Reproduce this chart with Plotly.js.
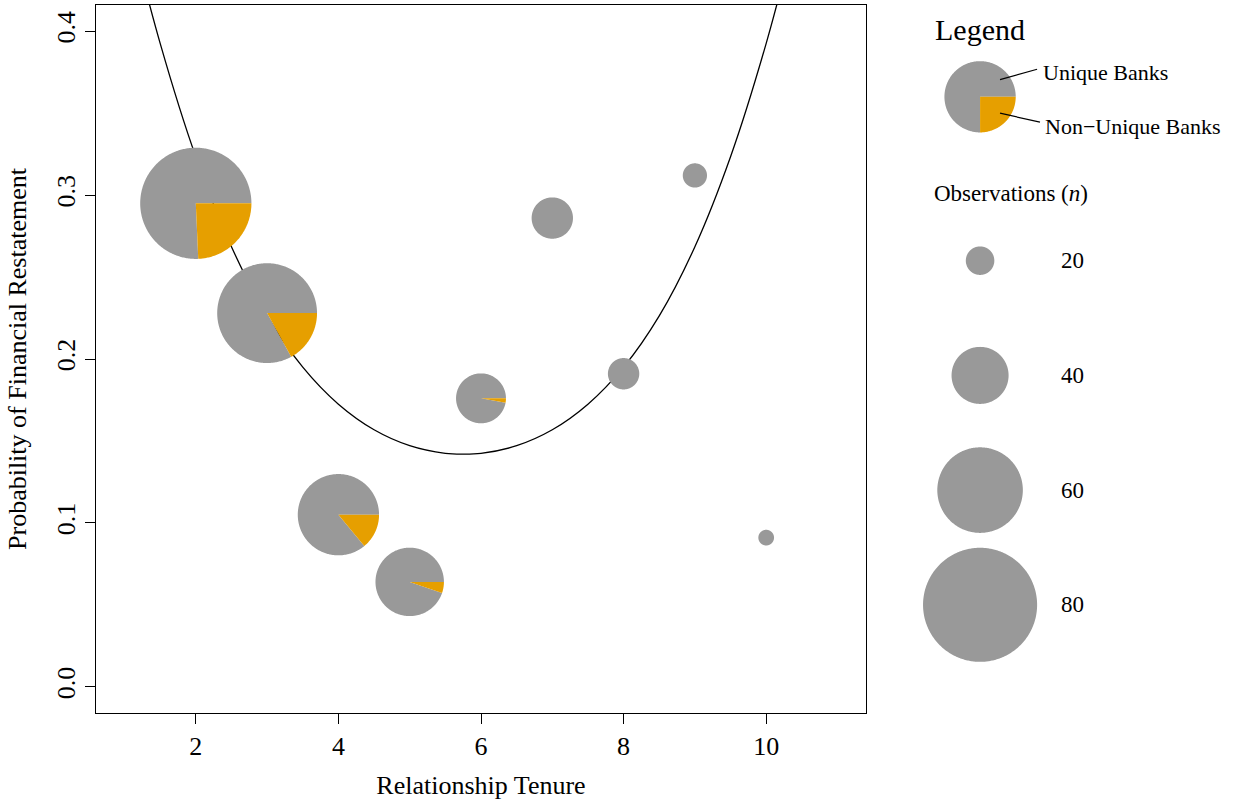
<!DOCTYPE html>
<html><head><meta charset="utf-8">
<script src="https://cdn.plot.ly/plotly-3.0.1.min.js"></script>
<style>html,body{margin:0;padding:0;background:#fff;}</style>
</head><body><div id="chart" style="width:1239px;height:800px;"></div>
<script>
// ---- data ----
const tenure = [2, 3, 4, 5, 6, 7, 8, 9, 10];
const probRestatement = [0.295, 0.228, 0.105, 0.064, 0.176, 0.286, 0.191, 0.312, 0.091];
const observations = [78, 70, 57, 48, 35, 29, 22, 17, 11];
const nonUniqueShare = [0.243, 0.17, 0.14, 0.053, 0.028, 0, 0, 0, 0];

// fitted curve
const curveTenure = [1, 1.5, 2, 2.5, 3, 3.5, 4, 4.5, 5, 5.5, 5.75, 6, 6.5, 7, 7.5, 8, 8.5, 9, 9.5, 10, 10.5];
const curveProb = [0.4759, 0.3926, 0.3234, 0.2685, 0.2263, 0.1950, 0.1724, 0.1568, 0.1471, 0.1424, 0.1419,
                   0.1424, 0.1471, 0.1568, 0.1724, 0.1950, 0.2263, 0.2685, 0.3234, 0.3926, 0.4759];

const xTicks = [2, 4, 6, 8, 10];
const yTicks = [0, 0.1, 0.2, 0.3, 0.4];
const yTickLabels = ['0.0', '0.1', '0.2', '0.3', '0.4'];

const legendSizes = [20, 40, 60, 80];
const legendSizeLabels = ['20', '40', '60', '80'];
const legendPieN = 50;
const legendPieShare = 0.25;

// ---- layout constants ----
const W = 1239, H = 800;
const M = {l: 96, r: 373, t: 5, b: 87};
const xRange = [0.6, 11.4];
const yRange = [-0.016, 0.416];
const plotW = W - M.l - M.r;
const plotH = H - M.t - M.b;
const pxPerX = plotW / (xRange[1] - xRange[0]);
const GRAY = '#999999', ORANGE = '#E69F00';
const FONT = 'Liberation Serif, Times New Roman, serif';

function toPaperX(x) { return (x - xRange[0]) / (xRange[1] - xRange[0]); }
function toPaperY(y) { return (y - yRange[0]) / (yRange[1] - yRange[0]); }

function arcPath(r, a0, a1) {
  // wedge from angle a0 to a1 (radians, counter-clockwise, y up)
  let p = 'M0,0';
  const steps = Math.max(2, Math.ceil((a1 - a0) / (Math.PI / 180)));
  for (let k = 0; k <= steps; k++) {
    const a = a0 + (a1 - a0) * k / steps;
    p += ' L' + (r * Math.cos(a)).toFixed(2) + ',' + (r * Math.sin(a)).toFixed(2);
  }
  return p + ' Z';
}

function pieShapes(n, share, anchor) {
  const r = n / 100 * pxPerX;
  const out = [];
  const split = 2 * Math.PI * (1 - share);
  const base = Object.assign({type: 'path', xsizemode: 'pixel', ysizemode: 'pixel',
    line: {width: 0}, layer: 'above'}, anchor);
  out.push(Object.assign({}, base, {path: arcPath(r, 0, split), fillcolor: GRAY}));
  if (share > 0) out.push(Object.assign({}, base, {path: arcPath(r, split, 2 * Math.PI), fillcolor: ORANGE}));
  return out;
}

const shapes = [];
tenure.forEach((t, i) => {
  shapes.push(...pieShapes(observations[i], nonUniqueShare[i],
    {xref: 'x', yref: 'y', xanchor: t, yanchor: probRestatement[i]}));
});

// legend (outside plotting region, in data units converted to paper)
const legX = 13;
shapes.push(...pieShapes(legendPieN, legendPieShare,
  {xref: 'paper', yref: 'paper', xanchor: toPaperX(legX), yanchor: toPaperY(0.36)}));
const sizeY = [0.26, 0.19, 0.12, 0.05];
legendSizes.forEach((n, i) => {
  shapes.push(...pieShapes(n, 0,
    {xref: 'paper', yref: 'paper', xanchor: toPaperX(legX), yanchor: toPaperY(sizeY[i])}));
});
shapes.push({type: 'line', xref: 'paper', yref: 'paper', layer: 'above',
  x0: toPaperX(13.28), y0: toPaperY(0.3705), x1: toPaperX(13.80), y1: toPaperY(0.3768),
  line: {color: 'black', width: 1.2}});
shapes.push({type: 'line', xref: 'paper', yref: 'paper', layer: 'above',
  x0: toPaperX(13.28), y0: toPaperY(0.350), x1: toPaperX(13.84), y1: toPaperY(0.3445),
  line: {color: 'black', width: 1.2}});

const annotations = [
  {x: legX, y: 0.401, text: 'Legend', font: {size: 30}},
  {x: 13.86, y: 0.375, text: 'Unique Banks', xanchor: 'left', font: {size: 22}},
  {x: 13.88, y: 0.342, text: 'Non\u2212Unique Banks', xanchor: 'left', font: {size: 22}},
  {x: 12.33, y: 0.301, text: 'Observations (<i>n</i>)', xanchor: 'left', font: {size: 23}},
];
legendSizeLabels.forEach((lab, i) => {
  annotations.push({x: 14.29, y: sizeY[i], text: lab, font: {size: 23}});
});
annotations.forEach(a => {
  a.x = toPaperX(a.x); a.y = toPaperY(a.y);
  a.xref = 'paper'; a.yref = 'paper'; a.showarrow = false;
  if (!a.xanchor) a.xanchor = 'center';
  a.yanchor = 'middle';
  a.font = Object.assign({family: FONT, color: 'black'}, a.font);
});

const data = [{
  type: 'scatter', mode: 'lines', x: curveTenure, y: curveProb,
  line: {color: 'black', width: 1.3, shape: 'spline', smoothing: 1},
  hoverinfo: 'skip', showlegend: false
}];

const axisCommon = {
  showgrid: false, zeroline: false, showline: true, mirror: true,
  linecolor: 'black', linewidth: 1, ticks: 'outside', ticklen: 10,
  tickcolor: 'black', tickwidth: 1, tickfont: {family: FONT, size: 26, color: 'black'},
  automargin: false
};

const layout = {
  width: W, height: H, margin: M,
  paper_bgcolor: 'white', plot_bgcolor: 'white',
  font: {family: FONT, color: 'black'},
  showlegend: false,
  xaxis: Object.assign({}, axisCommon, {
    range: xRange, tickmode: 'array', tickvals: xTicks,
    title: {text: 'Relationship Tenure', font: {family: FONT, size: 26, color: 'black'}, standoff: 22}
  }),
  yaxis: Object.assign({}, axisCommon, {
    range: yRange, tickmode: 'array', tickvals: yTicks, ticktext: yTickLabels, tickangle: -90,
    title: {text: 'Probability of Financial Restatement', font: {family: FONT, size: 26, color: 'black'}, standoff: 17}
  }),
  shapes: shapes,
  annotations: annotations
};

Plotly.newPlot('chart', data, layout, {displayModeBar: false, staticPlot: true});
</script></body></html>
